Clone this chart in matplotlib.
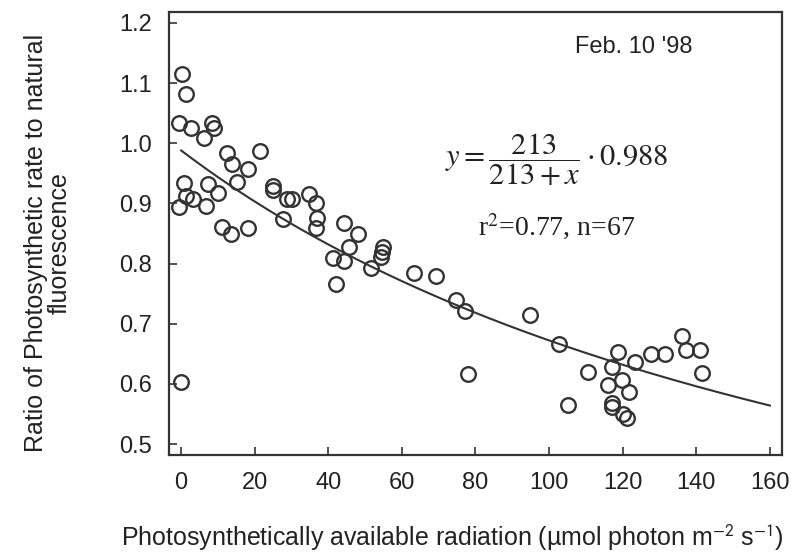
import matplotlib.pyplot as plt
import numpy as np

plt.rcParams['font.family'] = ['Liberation Sans', 'DejaVu Sans']

# PAR (umol photon m-2 s-1) and ratio
par = [0.2, 1.3, -0.5, 2.6, 8.5, 8.8, 6.3, 12.6, 21.5, 13.8, 18.2,
       0.8, 1.4, 3.1, -0.5, 7.4, 9.9, 6.8, 15.3, 11.1, 13.5, 18.1, 0.0,
       25.1, 25.1, 28.9, 30.1, 27.6,
       34.8, 36.6, 37.0, 36.7, 44.3, 48.0, 45.7, 41.4, 44.3, 42.0, 51.6,
       55.0, 54.5, 54.4, 63.3, 69.3, 74.7, 77.2, 77.9, 94.8, 102.7,
       105.2, 110.6, 117.0, 118.8, 123.4, 127.7, 131.5, 136.1, 137.2,
       141.0, 141.6, 115.9, 119.9, 121.8, 117.0, 117.0, 120.2, 121.1]
ratio = [1.115, 1.082, 1.033, 1.026, 1.034, 1.025, 1.008, 0.983, 0.987,
         0.965, 0.958, 0.934, 0.913, 0.908, 0.894, 0.932, 0.917, 0.895,
         0.935, 0.861, 0.849, 0.859, 0.603,
         0.929, 0.922, 0.907, 0.907, 0.874,
         0.915, 0.900, 0.875, 0.859, 0.868, 0.850, 0.827, 0.809, 0.805,
         0.766, 0.792, 0.827, 0.820, 0.811, 0.784, 0.780, 0.739, 0.721,
         0.616, 0.714, 0.667,
         0.565, 0.620, 0.628, 0.653, 0.636, 0.650, 0.650, 0.680, 0.657,
         0.657, 0.618, 0.598, 0.606, 0.587, 0.569, 0.562, 0.550, 0.543]

k = 213
a = 0.988

ink = '#333333'
txt = '#222222'

fig = plt.figure(figsize=(7.93, 5.54), dpi=100)
ax = fig.add_axes([0.2131, 0.1787, 0.773, 0.7996])

ax.plot(par, ratio, 'o', ms=10.5, mfc='none', mec=ink, mew=1.7)
xf = np.linspace(0, 160, 200)
ax.plot(xf, k / (k + xf) * a, '-', color=ink, lw=1.5)

ax.set_xlim(-3.3, 163.3)
ax.set_ylim(0.482, 1.218)
ax.set_xticks(np.arange(0, 161, 20))
ax.set_yticks(np.arange(0.5, 1.21, 0.1))
ax.set_yticklabels([f'{v:.1f}' for v in np.arange(0.5, 1.21, 0.1)])
ax.tick_params(direction='in', length=6, width=1.2, color=ink,
               labelsize=17, labelcolor=txt, pad=12)
for s in ax.spines.values():
    s.set_linewidth(1.6)
    s.set_color(ink)

ax.text(0.759, 0.921, "Feb. 10 '98", transform=ax.transAxes, fontsize=17,
        color=txt, ha='center', va='center')
ax.text(0.633, 0.666, r'$y = \dfrac{213}{213 + x} \cdot 0.988$',
        transform=ax.transAxes, fontsize=22, math_fontfamily='stix',
        color=txt, ha='center', va='center')
ax.text(0.633, 0.515, r'r$^2$=0.77, n=67', transform=ax.transAxes,
        fontsize=20, family='Liberation Serif', math_fontfamily='stix',
        color=txt, ha='center', va='center')

fig.text(0.06, 0.561, 'Ratio of Photosynthetic rate to natural\nfluorescence',
         rotation=90, fontsize=18, ha='center', va='center',
         multialignment='center', color=txt, linespacing=1.0)
fig.text(0.57, 0.029,
         'Photosynthetically available radiation (µmol photon m$^{-2}$ s$^{-1}$)',
         fontsize=18, ha='center', va='center', math_fontfamily='stixsans',
         color=txt)

fig.savefig('out.png', dpi=100)
